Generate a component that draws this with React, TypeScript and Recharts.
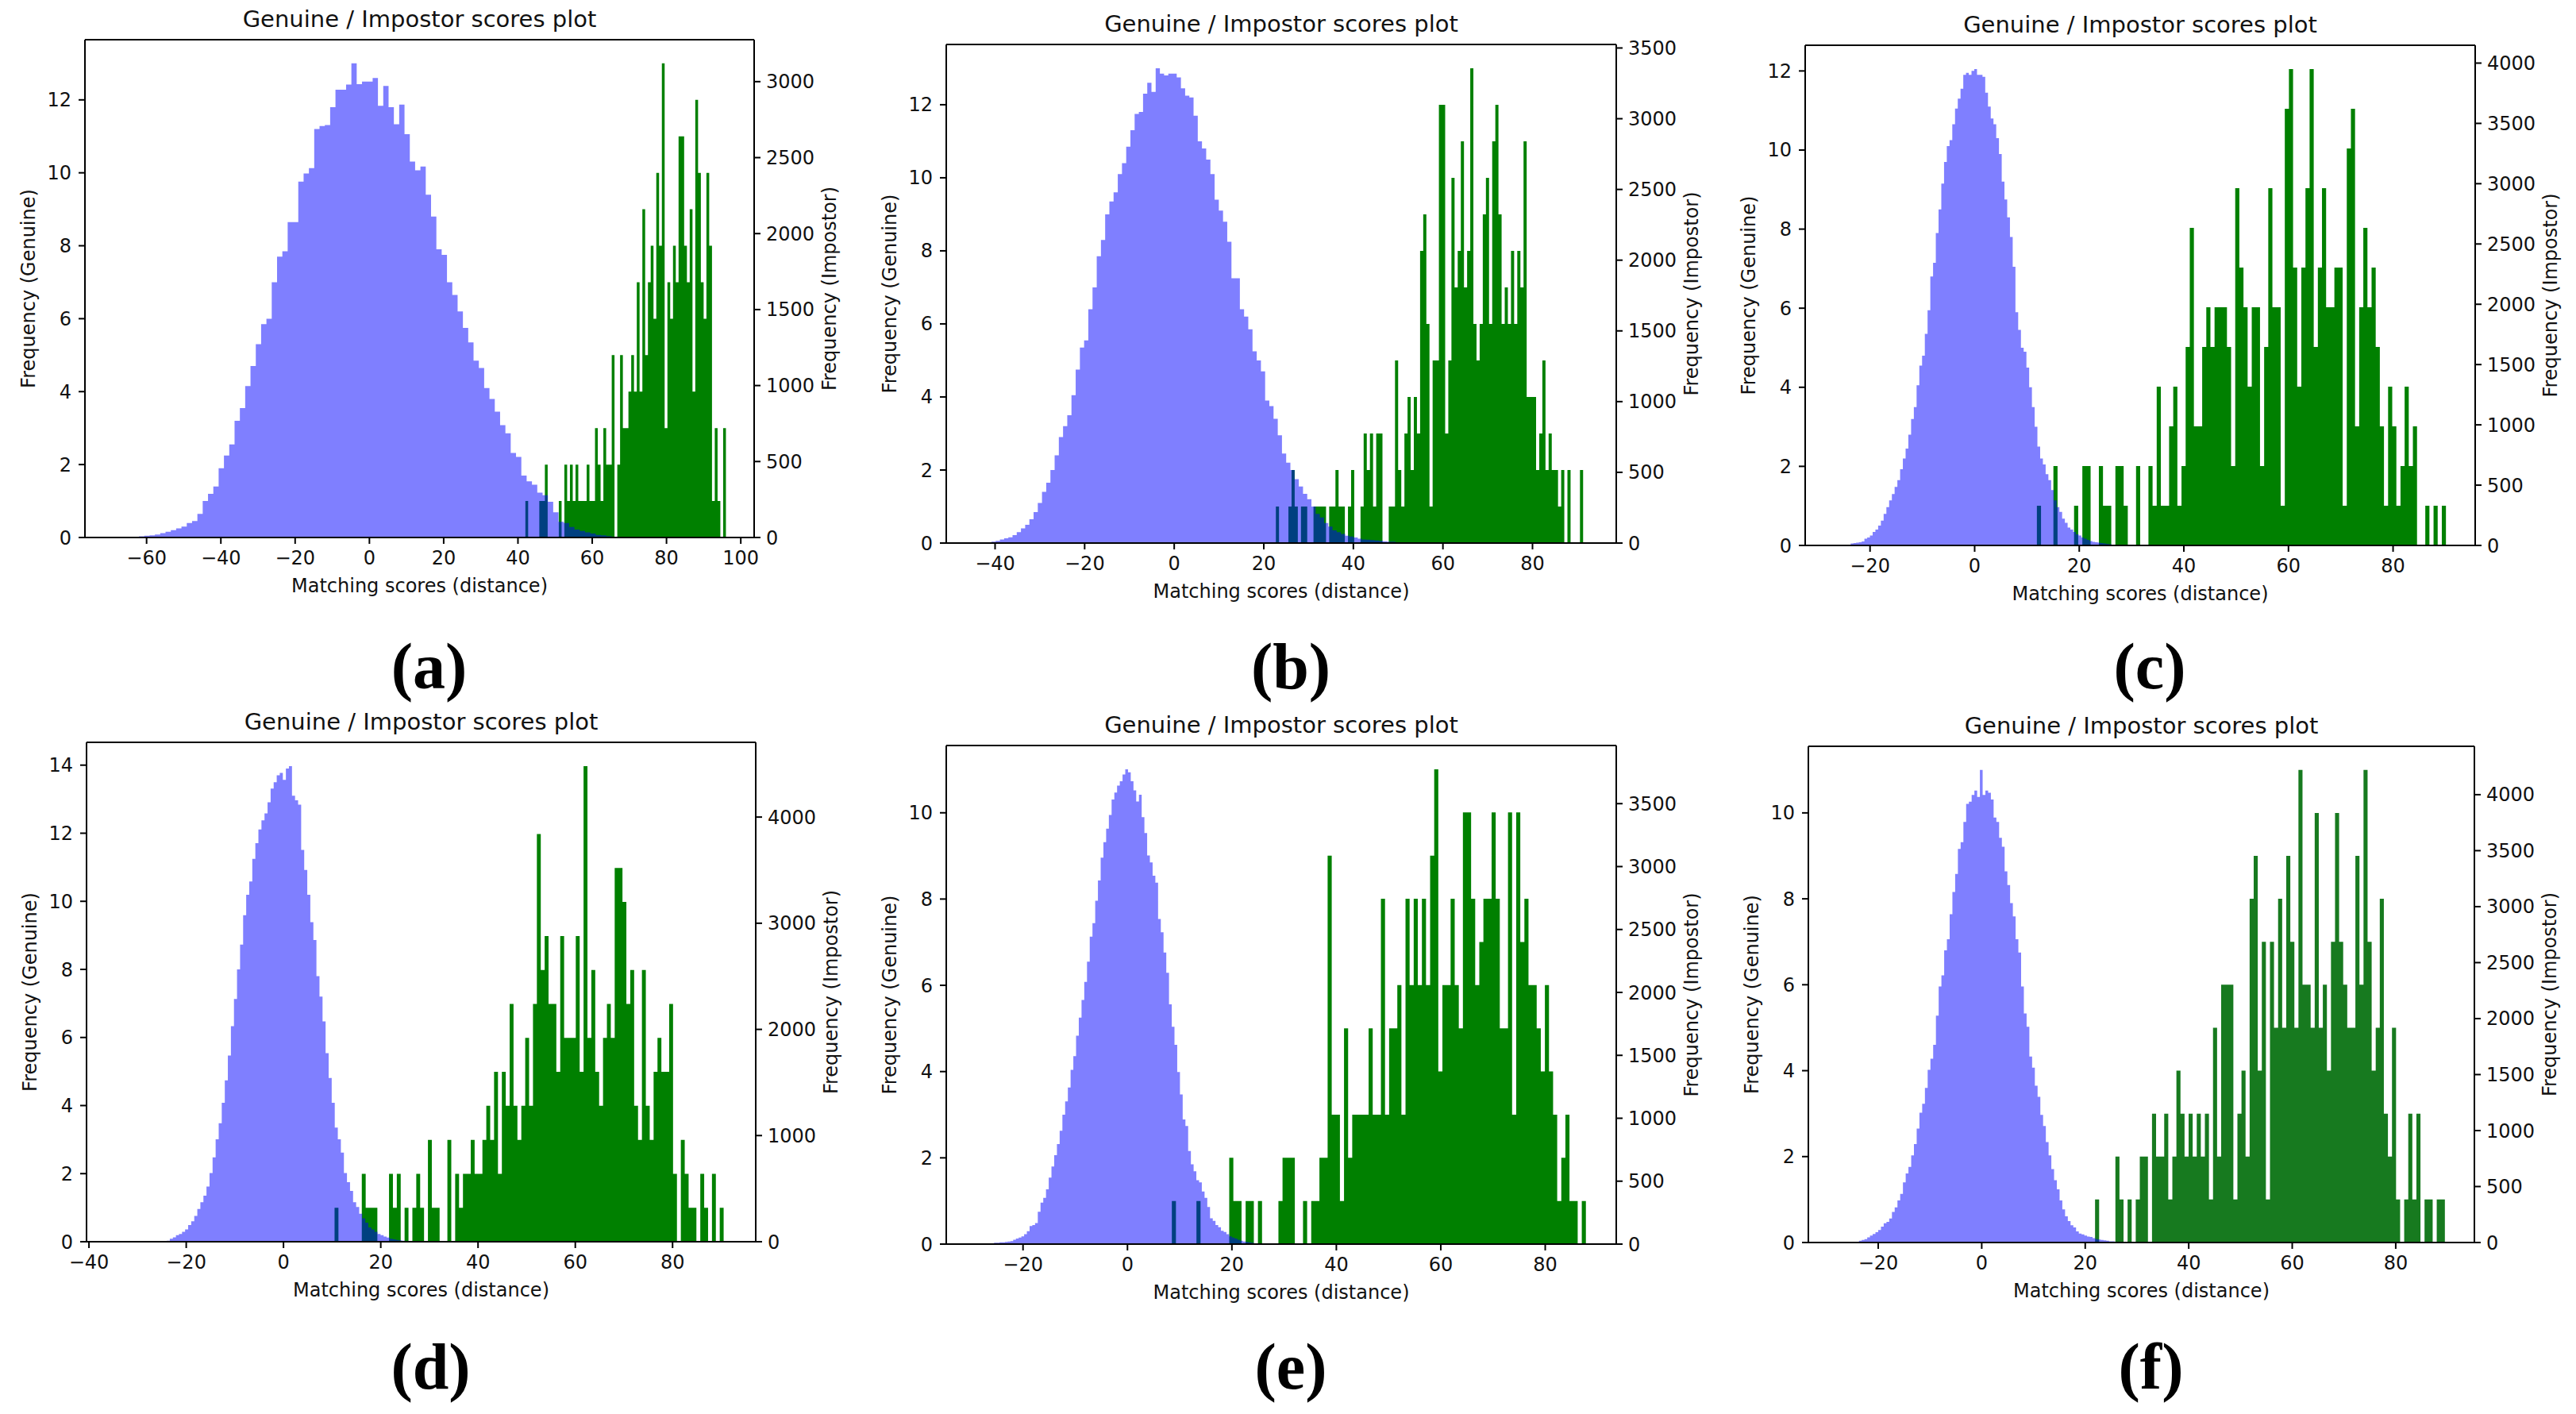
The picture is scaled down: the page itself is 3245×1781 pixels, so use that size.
import { ComposedChart, Area, XAxis, YAxis, ReferenceLine } from "recharts";

const BLUE = "#0000ff";
const GREEN = "#008000";
const GREEN_F = "#177a1f";
const INK = "#111111";
const FONT = "'DejaVu Sans', sans-serif";

// ---- (a) ----
const genuineStartA = -62.05;
const genuineBinA = 1.43;
const genuineA = [
  0.03, 0.05, 0.06, 0.08, 0.12, 0.16, 0.2, 0.25, 0.3, 0.4, 0.45, 0.65, 1.0, 1.2, 1.4, 1.9, 2.25, 2.55, 3.2, 3.55,
  4.15, 4.7, 5.3, 5.85, 6.0, 7.0, 7.7, 7.85, 8.65, 8.65, 9.76, 9.98, 10.13, 11.2, 11.28, 11.31, 11.8, 12.28, 12.28, 12.42,
  13.0, 12.43, 12.5, 12.5, 12.6, 11.84, 12.38, 11.8, 11.33, 11.87, 11.06, 10.31, 10.07, 10.17, 9.4, 8.8, 7.9, 7.75, 7.0, 6.65,
  6.2, 5.75, 5.35, 4.85, 4.65, 4.1, 3.8, 3.45, 3.08, 2.86, 2.32, 2.21, 1.7, 1.54, 1.45, 1.23, 1.16, 0.98, 0.69, 0.43,
  0.4, 0.29, 0.22, 0.18, 0.14, 0.11, 0.07, 0.06, 0.04,
];
const impostorStartA = 42;
const impostorBinA = 0.75;
const impostorA = [
  240, 0, 0, 0, 0, 240, 240, 480, 0, 0, 0, 0, 240, 0, 480, 240, 480, 240, 480, 240,
  240, 240, 480, 240, 240, 720, 480, 240, 720, 480, 480, 1200, 0, 480, 1200, 720, 720, 960, 1200, 960,
  1680, 960, 2160, 1200, 1680, 1920, 1440, 2400, 1920, 3120, 720, 1680, 1440, 1920, 1680, 2640, 2640, 1920, 1680, 2160,
  960, 2880, 2400, 1680, 1440, 2400, 1920, 240, 720, 240, 0, 720,
];
const xTicksA = [-60, -40, -20, 0, 20, 40, 60, 80, 100];
const leftTicksA = [0, 2, 4, 6, 8, 10, 12];
const rightTicksA = [0, 500, 1000, 1500, 2000, 2500, 3000];

// ---- (b) ----
const genuineStartB = -40.8;
const genuineBinB = 0.94;
const genuineB = [
  0.04, 0.06, 0.1, 0.13, 0.16, 0.22, 0.3, 0.4, 0.5, 0.65, 0.85, 1.1, 1.4, 1.65, 2.0, 2.4, 2.9, 3.2, 3.5, 4.05,
  4.75, 5.35, 5.55, 6.4, 7.0, 7.85, 8.3, 9.0, 9.35, 9.6, 10.1, 10.4, 10.85, 11.3, 11.75, 11.8, 12.3, 12.6, 12.35, 13.0,
  12.85, 12.8, 12.85, 12.85, 12.75, 12.45, 12.25, 12.2, 11.7, 11.0, 10.8, 10.5, 10.1, 9.4, 9.1, 8.8, 8.25, 7.25, 7.25, 6.4,
  6.2, 5.85, 5.25, 5.0, 4.7, 3.9, 3.75, 3.4, 2.95, 2.45, 2.2, 2.0, 1.75, 1.55, 1.35, 1.2, 1.0, 0.8, 0.7, 0.55,
  0.45, 0.35, 0.3, 0.25, 0.2, 0.18, 0.15, 0.12, 0.1, 0.09, 0.08, 0.07, 0.06, 0.05, 0.04, 0.04,
];
const impostorStartB = 22.7;
const impostorBinB = 0.7;
const impostorB = [
  258, 0, 0, 0, 258, 516, 258, 0, 258, 258, 0, 0, 258, 258, 258, 258, 0, 258, 258, 516,
  258, 258, 0, 258, 516, 0, 0, 258, 775, 516, 775, 258, 775, 775, 0, 0, 258, 258, 1291, 516,
  258, 775, 1033, 516, 1033, 775, 2066, 2324, 1549, 258, 1291, 1291, 3098, 3098, 775, 1291, 2582, 1807, 2066, 2840,
  1807, 2066, 3357, 1549, 1291, 1549, 2324, 2582, 1549, 2840, 3098, 2324, 1549, 1807, 1549, 2066, 1549, 2066, 1807, 2840,
  1033, 1033, 1033, 516, 775, 1291, 516, 775, 516, 516, 258, 516, 0, 516, 0, 0, 0, 516,
];
const xTicksB = [-40, -20, 0, 20, 40, 60, 80];
const leftTicksB = [0, 2, 4, 6, 8, 10, 12];
const rightTicksB = [0, 500, 1000, 1500, 2000, 2500, 3000, 3500];

// ---- (c) ----
const genuineStartC = -23.7;
const genuineBinC = 0.525;
const genuineC = [
  0.05, 0.06, 0.07, 0.08, 0.1, 0.17, 0.2, 0.25, 0.34, 0.4, 0.5, 0.63, 0.8, 0.97, 1.14, 1.3, 1.48, 1.65, 1.93, 2.2,
  2.45, 2.8, 3.2, 3.5, 4.05, 4.55, 4.8, 5.35, 5.95, 6.8, 7.15, 7.9, 8.5, 9.15, 9.7, 10.1, 10.25, 10.65, 11.05, 11.3,
  11.55, 11.9, 11.95, 11.9, 12.0, 12.05, 11.9, 11.9, 11.85, 11.45, 11.1, 10.8, 10.65, 10.3, 9.9, 9.2, 8.75, 8.3, 7.8, 7.05,
  5.9, 5.45, 5.0, 4.9, 4.5, 4.0, 3.5, 3.0, 2.5, 2.2, 2.05, 1.8, 1.65, 1.4, 1.14, 0.97, 0.85, 0.68, 0.57, 0.45,
  0.4, 0.34, 0.28, 0.25, 0.2, 0.17, 0.14, 0.11, 0.09, 0.08, 0.07, 0.06, 0.05, 0.04, 0.03, 0.02,
];
const impostorStartC = 11.9;
const impostorBinC = 0.79;
const impostorC = [
  329, 0, 0, 0, 658, 0, 0, 0, 0, 329, 0, 658, 658, 0, 0, 658, 329, 329, 0, 658,
  658, 329, 0, 0, 658, 0, 0, 658, 329, 1317, 329, 329, 988, 1317, 329, 658, 1646, 2633, 988, 988,
  1646, 1975, 1646, 1975, 1975, 1975, 1646, 658, 2963, 2304, 1975, 1317, 1975, 1975, 658, 1646, 2963, 1975, 1975, 329,
  3621, 3950, 2304, 1317, 2304, 2963, 3950, 1646, 2304, 2963, 1975, 1975, 2304, 2304, 329, 3292, 3621, 988, 1975, 2633,
  1975, 2304, 1646, 988, 329, 1317, 988, 329, 658, 1317, 658, 988, 0, 0, 329, 0, 329, 0, 329,
];
const xTicksC = [-20, 0, 20, 40, 60, 80];
const leftTicksC = [0, 2, 4, 6, 8, 10, 12];
const rightTicksC = [0, 500, 1000, 1500, 2000, 2500, 3000, 3500, 4000];

// ---- (d) ----
const genuineStartD = -24.0;
const genuineBinD = 0.628;
const genuineD = [
  0.03, 0.09, 0.13, 0.19, 0.23, 0.29, 0.36, 0.49, 0.6, 0.76, 0.96, 1.16, 1.35, 1.62, 2.02, 2.48, 3.01, 3.48, 4.08, 4.74,
  5.47, 6.33, 7.13, 8.0, 8.73, 9.59, 10.19, 10.58, 11.25, 11.71, 12.11, 12.38, 12.58, 12.91, 13.31, 13.5, 13.7, 13.77, 13.57, 13.9,
  13.97, 13.1, 12.97, 12.84, 11.51, 10.92, 10.19, 9.39, 8.86, 7.8, 7.2, 6.47, 5.54, 4.81, 4.08, 3.35, 3.01, 2.62, 2.02, 1.75,
  1.49, 1.16, 1.02, 0.82, 0.69, 0.56, 0.42, 0.36, 0.29, 0.23, 0.19, 0.15, 0.12, 0.09, 0.07, 0.05, 0.04, 0.03,
];
const impostorStartD = 10.5;
const impostorBinD = 0.8;
const impostorD = [
  320, 0, 0, 0, 0, 0, 0, 640, 320, 320, 320, 0, 0, 0, 640, 320, 640, 0, 320, 0,
  320, 640, 320, 0, 960, 320, 320, 0, 0, 960, 0, 640, 320, 640, 640, 960, 640, 640, 960, 1280,
  960, 1600, 640, 1600, 1280, 2240, 1280, 960, 1280, 1920, 1280, 2240, 3840, 2560, 2880, 2240, 2240, 1600, 2880, 1920,
  1920, 1920, 2880, 1600, 4480, 1920, 2560, 1600, 1280, 1920, 2240, 1920, 3520, 3520, 3200, 2240, 2560, 1280, 960, 2560,
  1280, 960, 1600, 1920, 1600, 1600, 2240, 640, 0, 960, 640, 320, 320, 0, 640, 320, 0, 640, 0, 320,
];
const xTicksD = [-40, -20, 0, 20, 40, 60, 80];
const leftTicksD = [0, 2, 4, 6, 8, 10, 12, 14];
const rightTicksD = [0, 1000, 2000, 3000, 4000];

// ---- (e) ----
const genuineStartE = -26.07;
const genuineBinE = 0.5235;
const genuineE = [
  0.02, 0.03, 0.03, 0.04, 0.04, 0.05, 0.06, 0.07, 0.1, 0.13, 0.15, 0.18, 0.23, 0.3, 0.42, 0.44, 0.49, 0.75, 0.96, 1.07,
  1.27, 1.54, 1.8, 2.06, 2.32, 2.63, 3.0, 3.31, 3.63, 4.04, 4.36, 4.83, 5.25, 5.66, 6.08, 6.55, 7.13, 7.44, 7.96, 8.43,
  8.96, 9.32, 9.63, 9.95, 10.31, 10.47, 10.63, 10.73, 10.89, 11.01, 10.94, 10.73, 10.52, 10.26, 10.42, 9.9, 9.53, 9.01, 8.85, 8.54,
  8.38, 7.54, 7.23, 6.76, 6.29, 5.56, 5.04, 4.62, 3.99, 3.47, 2.89, 2.74, 2.16, 1.85, 1.69, 1.48, 1.43, 1.22, 1.07, 0.86,
  0.6, 0.54, 0.44, 0.39, 0.31, 0.28, 0.23, 0.18, 0.15, 0.13, 0.1, 0.08, 0.06, 0.05, 0.04, 0.03,
];
const impostorStartE = 8.5;
const impostorBinE = 0.785;
const impostorE = [
  343, 0, 0, 0, 0, 0, 343, 0, 0, 0, 0, 0, 0, 0, 686, 343, 343, 0, 343, 343,
  0, 343, 0, 0, 0, 0, 343, 686, 686, 686, 0, 0, 343, 0, 343, 343, 686, 686, 3087, 1029,
  1029, 343, 1715, 686, 1029, 1029, 1029, 1029, 1715, 1029, 1029, 2744, 1029, 1715, 1715, 2058, 1029, 2744, 2058, 2744,
  2058, 2744, 2058, 3087, 3773, 1372, 2058, 2058, 2744, 2058, 1715, 3430, 3430, 2744, 2058, 2401, 2744, 2744, 3430, 2744,
  1715, 1715, 3430, 1029, 3430, 2401, 2744, 2058, 2058, 1715, 1372, 2058, 1372, 1029, 343, 686, 1029, 343, 343, 0,
  343,
];
const xTicksE = [-20, 0, 20, 40, 60, 80];
const leftTicksE = [0, 2, 4, 6, 8, 10];
const rightTicksE = [0, 500, 1000, 1500, 2000, 2500, 3000, 3500];

// ---- (f) ----
const genuineStartF = -24.25;
const genuineBinF = 0.531;
const genuineF = [
  0.02, 0.04, 0.06, 0.08, 0.12, 0.16, 0.2, 0.24, 0.29, 0.37, 0.45, 0.48, 0.56, 0.71, 0.82, 0.98, 1.13, 1.4, 1.61, 1.76,
  2.03, 2.29, 2.65, 3.02, 3.23, 3.6, 4.02, 4.28, 4.6, 5.28, 5.96, 6.22, 6.8, 7.06, 7.64, 8.16, 8.58, 9.16, 9.32, 9.79,
  10.21, 10.26, 10.42, 10.52, 10.37, 11.0, 10.42, 10.52, 10.47, 10.31, 9.89, 9.79, 9.42, 9.21, 8.64, 8.32, 7.9, 7.59, 7.06, 6.75,
  5.96, 5.33, 5.02, 4.33, 4.07, 3.65, 3.39, 2.97, 2.71, 2.34, 2.03, 1.71, 1.45, 1.24, 0.98, 0.77, 0.61, 0.5, 0.4, 0.35,
  0.26, 0.21, 0.19, 0.16, 0.14, 0.13, 0.1, 0.08, 0.07, 0.06, 0.05, 0.04, 0.03, 0.03, 0.02,
];
const impostorStartF = 21.9;
const impostorBinF = 0.786;
const impostorF = [
  384, 0, 0, 0, 0, 767, 384, 0, 384, 0, 384, 767, 767, 0, 1151, 767, 767, 1151, 384, 767,
  1535, 1151, 767, 1151, 767, 1151, 767, 1151, 384, 1919, 767, 2302, 2302, 2302, 384, 1151, 1535, 767, 3070, 3453,
  1535, 2686, 384, 2686, 1919, 3070, 1919, 3453, 2686, 1919, 4221, 2302, 2302, 1919, 3837, 1919, 2302, 1535, 2686, 3837,
  2686, 2302, 1919, 1919, 3453, 2302, 4221, 2686, 1535, 1919, 3070, 1151, 767, 1919, 384, 0, 384, 1151, 384, 1151,
  0, 384, 384, 0, 384, 384,
];
const xTicksF = [-20, 0, 20, 40, 60, 80];
const leftTicksF = [0, 2, 4, 6, 8, 10];
const rightTicksF = [0, 500, 1000, 1500, 2000, 2500, 3000, 3500, 4000];

// layout: plot rectangle of each panel in page pixels
const PANELS = [
  { id: "a", plot: { l: 107, r: 950, t: 50, b: 677 }, x: [-76.6, 103.6], left: 13.65, right: 3276, green: GREEN, letterY: 840,
    g: [genuineStartA, genuineBinA, genuineA], i: [impostorStartA, impostorBinA, impostorA], xt: xTicksA, lt: leftTicksA, rt: rightTicksA },
  { id: "b", plot: { l: 1192, r: 2036, t: 56, b: 684 }, x: [-50.9, 98.7], left: 13.65, right: 3525, green: GREEN, letterY: 840,
    g: [genuineStartB, genuineBinB, genuineB], i: [impostorStartB, impostorBinB, impostorB], xt: xTicksB, lt: leftTicksB, rt: rightTicksB },
  { id: "c", plot: { l: 2274, r: 3118, t: 57, b: 687 }, x: [-32.4, 95.7], left: 12.65, right: 4148, green: GREEN, letterY: 840,
    g: [genuineStartC, genuineBinC, genuineC], i: [impostorStartC, impostorBinC, impostorC], xt: xTicksC, lt: leftTicksC, rt: rightTicksC },
  { id: "d", plot: { l: 109, r: 952, t: 935, b: 1564 }, x: [-40.5, 97.1], left: 14.67, right: 4704, green: GREEN, letterY: 1722,
    g: [genuineStartD, genuineBinD, genuineD], i: [impostorStartD, impostorBinD, impostorD], xt: xTicksD, lt: leftTicksD, rt: rightTicksD },
  { id: "e", plot: { l: 1192, r: 2036, t: 939, b: 1567 }, x: [-34.7, 93.6], left: 11.56, right: 3962, green: GREEN, letterY: 1722,
    g: [genuineStartE, genuineBinE, genuineE], i: [impostorStartE, impostorBinE, impostorE], xt: xTicksE, lt: leftTicksE, rt: rightTicksE },
  { id: "f", plot: { l: 2278, r: 3117, t: 940, b: 1565 }, x: [-33.5, 95.2], left: 11.55, right: 4432, green: GREEN_F, letterY: 1722,
    g: [genuineStartF, genuineBinF, genuineF], i: [impostorStartF, impostorBinF, impostorF], xt: xTicksF, lt: leftTicksF, rt: rightTicksF },
];

const LEFT_W = 144;
const RIGHT_W = 188;
const BOTTOM_H = 120;
const PAD = 10;

// merge both histograms onto one x grid (bin edges of either series)
function histogramRows(g: any[], i: any[]) {
  const [gs, gb, gv] = g;
  const [is, ib, iv] = i;
  const edges = new Set<number>();
  for (let k = 0; k <= gv.length; k++) edges.add(+(gs + k * gb).toFixed(4));
  for (let k = 0; k <= iv.length; k++) edges.add(+(is + k * ib).toFixed(4));
  const xs = Array.from(edges).sort((a, b) => a - b);
  const pick = (start: number, bin: number, vals: number[], x: number) => {
    const k = Math.floor((x - start) / bin + 1e-6);
    return k >= 0 && k < vals.length ? vals[k] : 0;
  };
  return xs.map((x) => ({ x, genuine: pick(gs, gb, gv, x), impostor: pick(is, ib, iv, x) }));
}

const fmt = (v: number) => (v < 0 ? `\u2212${-v}` : `${v}`);
const axisStroke = { stroke: "#000", strokeWidth: 2 };
const tickStyle = { fill: INK, fontSize: 24, fontFamily: FONT };

function Panel({ p }: { p: any }) {
  const plotW = p.plot.r - p.plot.l;
  const plotH = p.plot.b - p.plot.t;
  const rows = histogramRows(p.g, p.i);
  const cx = (p.plot.l + p.plot.r) / 2;
  return (
    <>
      <div style={{ position: "absolute", left: p.plot.l - LEFT_W, top: p.plot.t - PAD }}>
        <ComposedChart
          width={LEFT_W + plotW + RIGHT_W}
          height={PAD + plotH + BOTTOM_H}
          data={rows}
          margin={{ top: PAD, right: 0, bottom: 0, left: 0 }}
        >
          <XAxis dataKey="x" type="number" domain={p.x} allowDataOverflow ticks={p.xt} interval={0}
            height={BOTTOM_H} tickFormatter={fmt} tick={tickStyle} tickSize={8} tickMargin={9}
            axisLine={axisStroke} tickLine={axisStroke}
            label={{ value: "Matching scores (distance)", position: "center", fill: INK, fontSize: 24, fontFamily: FONT }} />
          <YAxis yAxisId="left" type="number" domain={[0, p.left]} allowDataOverflow ticks={p.lt} interval={0}
            width={LEFT_W} tick={tickStyle} tickSize={8} tickMargin={9} axisLine={axisStroke} tickLine={axisStroke}
            label={{ value: "Frequency (Genuine)", position: "center", angle: -90, fill: INK, fontSize: 24, fontFamily: FONT }} />
          <YAxis yAxisId="right" orientation="right" type="number" domain={[0, p.right]} allowDataOverflow ticks={p.rt}
            interval={0} width={RIGHT_W} tick={tickStyle} tickSize={8} tickMargin={7} axisLine={axisStroke} tickLine={axisStroke}
            label={{ value: "Frequency (Impostor)", position: "center", angle: -90, fill: INK, fontSize: 24, fontFamily: FONT }} />
          <Area yAxisId="right" type="stepAfter" dataKey="impostor" stroke="none" fill={p.green} fillOpacity={1}
            dot={false} activeDot={false} isAnimationActive={false} />
          <Area yAxisId="left" type="stepAfter" dataKey="genuine" stroke="none" fill={BLUE} fillOpacity={0.5}
            dot={false} activeDot={false} isAnimationActive={false} />
          {/* top spine of the frame */}
          <ReferenceLine yAxisId="left" y={p.left} stroke="#000" strokeWidth={2} ifOverflow="visible" />
        </ComposedChart>
      </div>
      <div style={{ position: "absolute", left: cx - 400, width: 800, top: p.plot.t - 44, textAlign: "center",
        fontFamily: FONT, fontSize: 29, lineHeight: "36px", color: INK }}>
        Genuine / Impostor scores plot
      </div>
      <div style={{ position: "absolute", left: cx + 12 - 100, width: 200, top: p.letterY - 50, textAlign: "center",
        fontFamily: "'Liberation Serif', 'Times New Roman', serif", fontWeight: 700, fontSize: 82, lineHeight: "100px", color: "#000" }}>
        ({p.id})
      </div>
    </>
  );
}

export default function App() {
  return (
    <div style={{ position: "relative", width: 3245, height: 1781, background: "#fff", fontFamily: FONT, overflow: "hidden" }}>
      <style>{"body{margin:0}"}</style>
      {PANELS.map((p) => (
        <Panel key={p.id} p={p} />
      ))}
    </div>
  );
}
